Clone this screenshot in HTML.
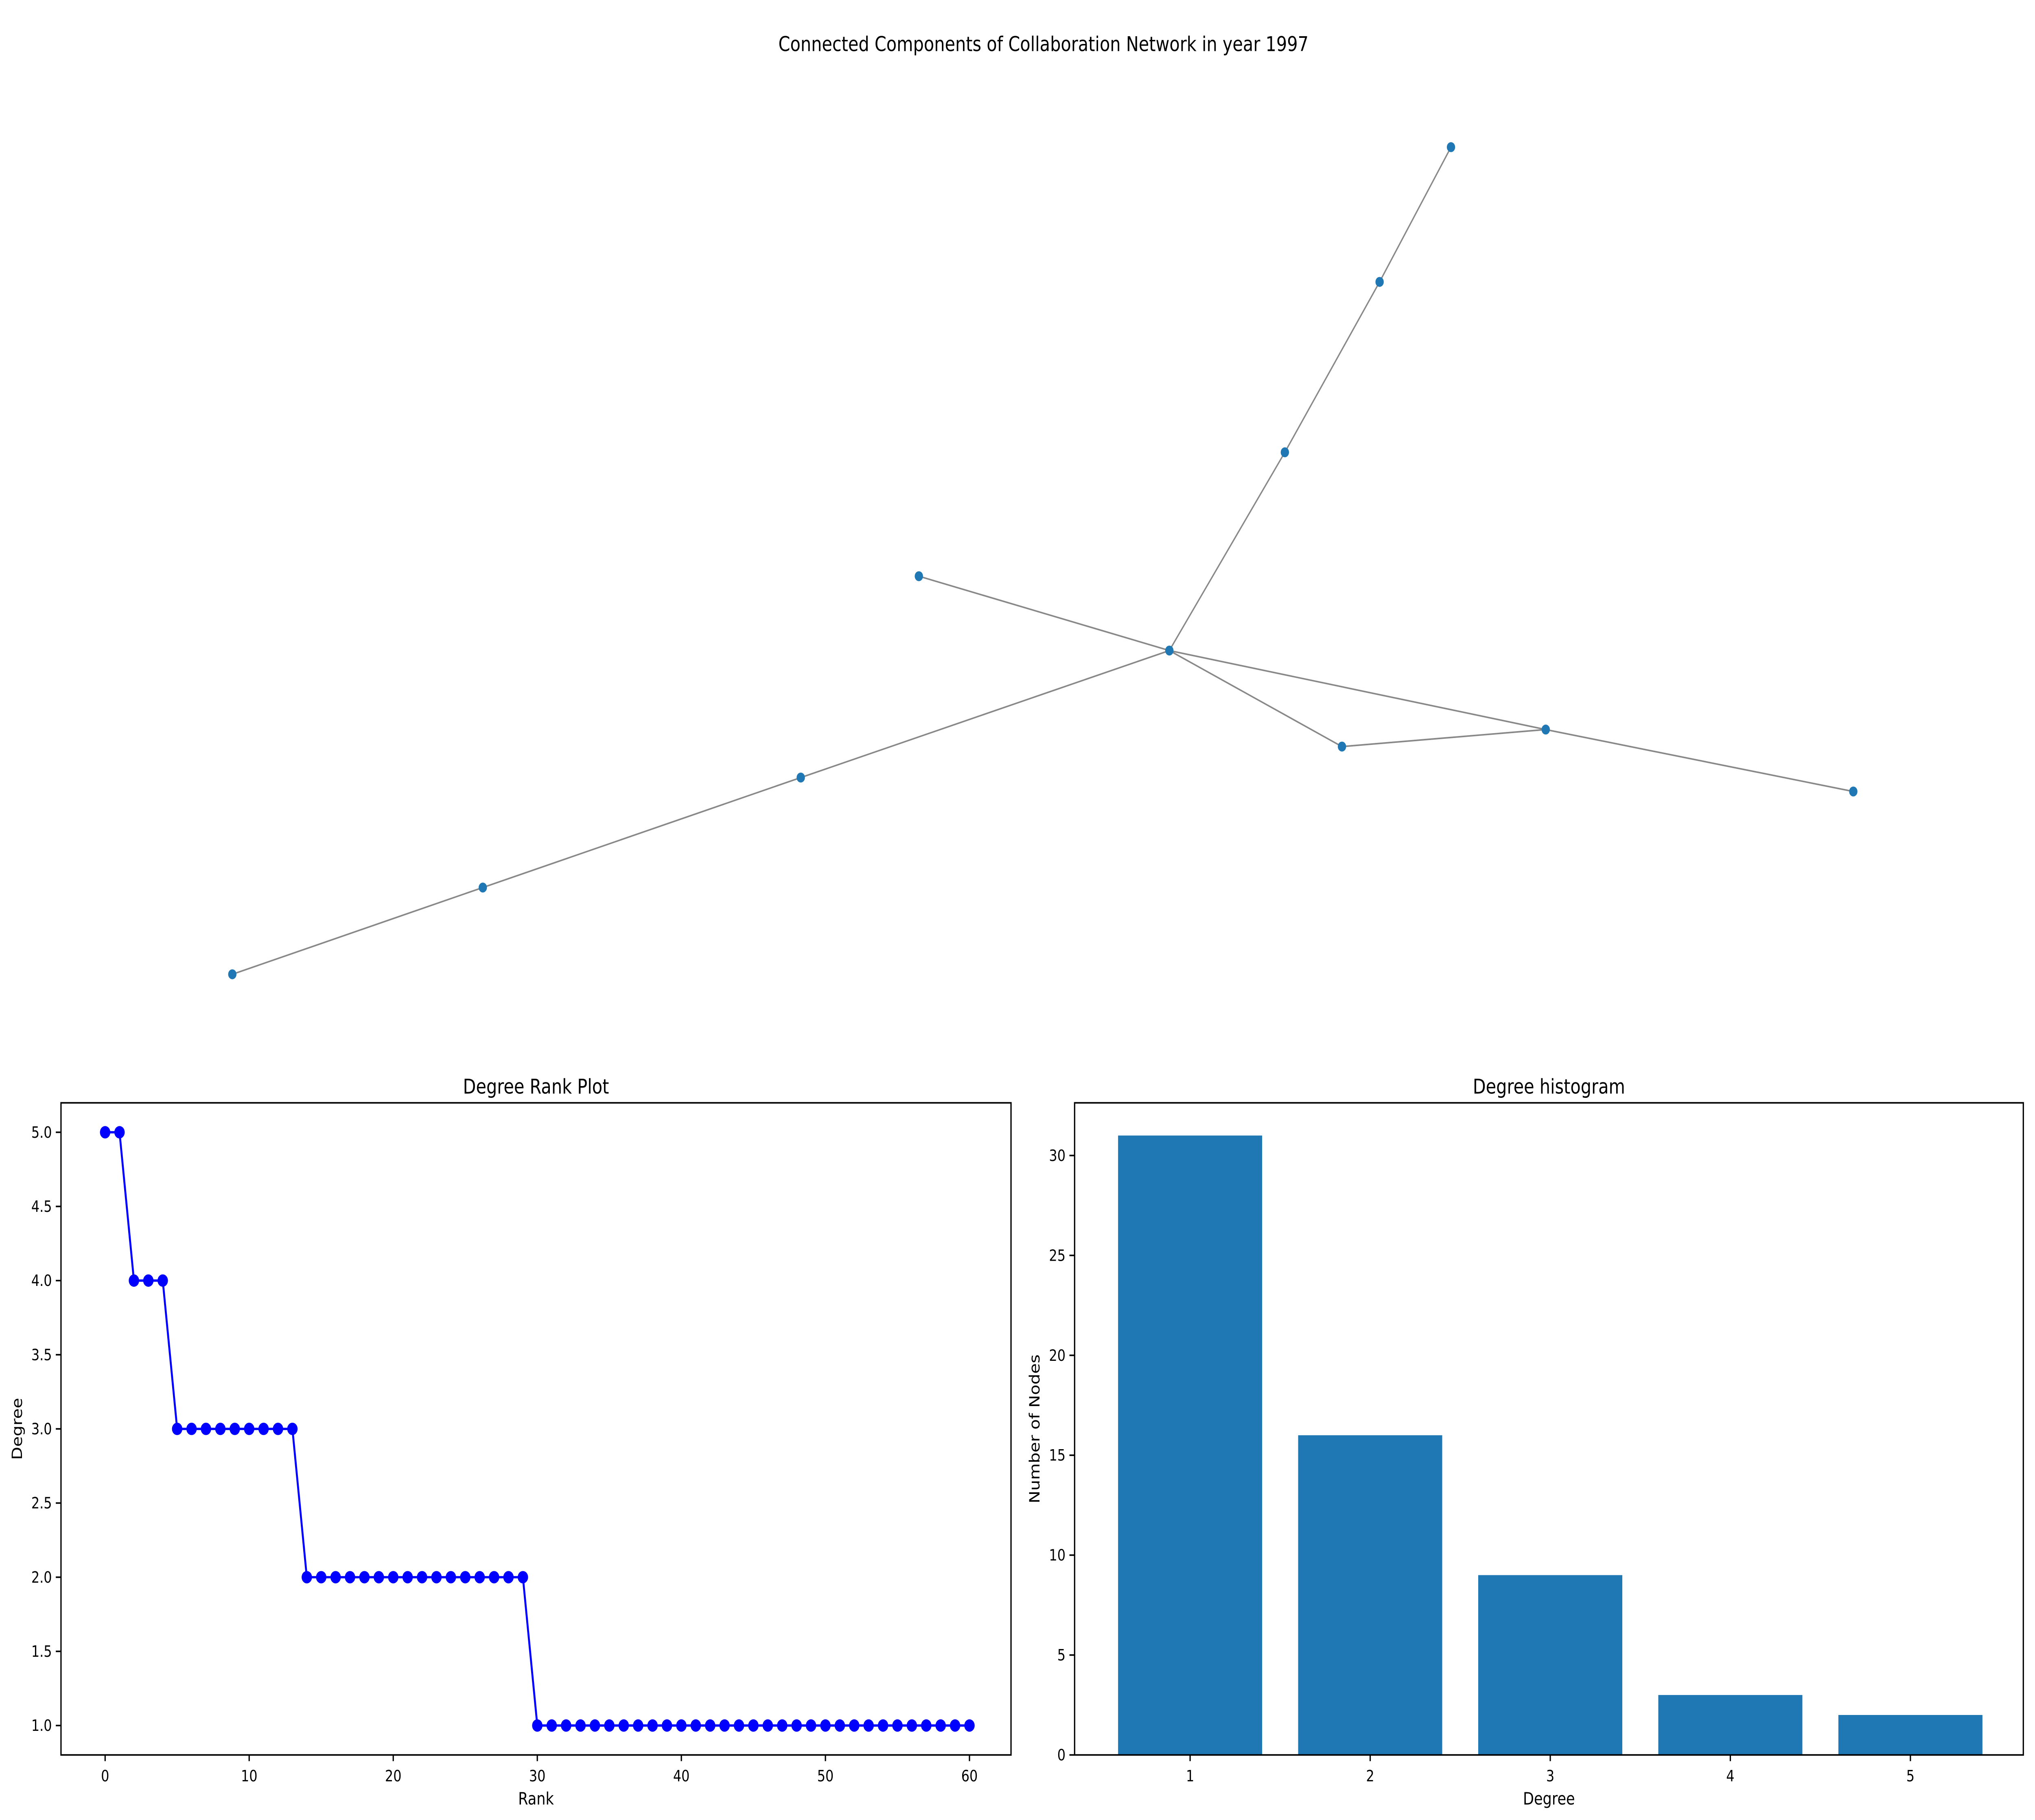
<!DOCTYPE html>
<html><head><meta charset="utf-8"><style>
html,body{margin:0;padding:0;background:#fff;width:100%;height:100%;overflow:hidden;}
svg{display:block;position:absolute;left:0;top:0;width:100vw;height:100vh;font-family:"DejaVu Sans","Liberation Sans",sans-serif;}
</style></head><body>
<svg id="fig" viewBox="0 0 1568 1175" preserveAspectRatio="none" xmlns="http://www.w3.org/2000/svg">
<rect width="1568" height="1175" fill="#fff"/>
<text x="804" y="33" font-size="13" text-anchor="middle">Connected Components of Collaboration Network in year 1997</text>
<g id="net"></g>
<g id="rank"></g>
<g id="hist"></g>
</svg>
<script>
const NS='http://www.w3.org/2000/svg';
// network layout
const nodeX=[1118,1063,990,708,901,1034,1191,1428,617,372,179];
const nodeY=[95,182,292,372,420,482,471,511,502,573,629];
const edgesA=[0,1,2,3,4,6,4,5,4,8,9];
const edgesB=[1,2,4,4,6,7,5,6,8,9,10];
// degree rank data
const rankDegrees=[5,5,4,4,4,3,3,3,3,3,3,3,3,3,2,2,2,2,2,2,2,2,2,2,2,2,2,2,2,2,1,1,1,1,1,1,1,1,1,1,1,1,1,1,1,1,1,1,1,1,1,1,1,1,1,1,1,1,1,1,1];
const rankXTicks=[0,10,20,30,40,50,60];
const rankYTicks=[1.0,1.5,2.0,2.5,3.0,3.5,4.0,4.5,5.0];
// histogram data
const histCats=[1,2,3,4,5];
const histCounts=[31,16,9,3,2];
const histYTicks=[0,5,10,15,20,25,30];

function mk(tag,attrs,parent,text){const e=document.createElementNS(NS,tag);for(const k in attrs)e.setAttribute(k,attrs[k]);if(text!==undefined)e.textContent=text;parent.appendChild(e);return e;}

const net=document.getElementById('net');
for(let i=0;i<edgesA.length;i++){
  const l=mk('line',{x1:nodeX[edgesA[i]],y1:nodeY[edgesA[i]],x2:nodeX[edgesB[i]],y2:nodeY[edgesB[i]],stroke:'#888',"stroke-width":1},net);
  
  
}
for(let i=0;i<nodeX.length;i++){
  const c=mk('circle',{cx:nodeX[i],cy:nodeY[i],r:3.2,fill:'#1f77b4'},net);
  
  
}

function axesFrame(g,L,R,T,B,title){
  const r=mk('rect',{x:L,y:T,width:R-L,height:B-T,fill:'none',stroke:'#000',"stroke-width":1},g);
  
  
  const t=mk('text',{x:(L+R)/2,y:T-6,"font-size":13,"text-anchor":"middle"},g,title);
  
  
}

// rank plot
(function(){
  const g=document.getElementById('rank');
  const L=47,R=779,T=712,B=1133;
  const xs=v=>81+v*(747-81)/60;
  const ys=v=>731+(5-v)*(1114-731)/4;
  axesFrame(g,L,R,T,B,'Degree Rank Plot');
  rankXTicks.forEach(v=>{
    mk('line',{x1:xs(v),x2:xs(v),y1:B,y2:B+4,stroke:'#000'},g);
    const t=mk('text',{x:xs(v),y:B+17,"font-size":10,"text-anchor":"middle"},g,String(v));
    
    
  });
  rankYTicks.forEach(v=>{
    mk('line',{x1:L-4,x2:L,y1:ys(v),y2:ys(v),stroke:'#000'},g);
    const t=mk('text',{x:L-7,y:ys(v)+3.5,"font-size":10,"text-anchor":"end"},g,v.toFixed(1));
    
    
  });
  const xl=mk('text',{x:(L+R)/2,y:1165,"font-size":11,"text-anchor":"middle"},g,'Rank');
  
  
  const yl=mk('text',{x:0,y:0,"font-size":11,"text-anchor":"middle",transform:'translate(17,'+((T+B)/2)+') rotate(-90)'},g,'Degree');
  
  
  const pts=rankDegrees.map((d,i)=>xs(i)+','+ys(d)).join(' ');
  const pl=mk('polyline',{points:pts,fill:'none',stroke:'#0000ff',"stroke-width":1.5},g);
  
  
  rankDegrees.forEach((d,i)=>{
    const c=mk('circle',{cx:xs(i),cy:ys(d),r:4,fill:'#0000ff'},g);
    
    
  });
})();

// histogram
(function(){
  const g=document.getElementById('hist');
  const L=828,R=1559,T=712,B=1133;
  const xs=v=>917+(v-1)*(1472-917)/4;
  const ys=v=>B-v*(B-746)/30;
  const bw=0.8*(1472-917)/4;
  histCats.forEach((c,i)=>{
    const r=mk('rect',{x:xs(c)-bw/2,y:ys(histCounts[i]),width:bw,height:B-ys(histCounts[i]),fill:'#1f77b4'},g);
    
    
  });
  axesFrame(g,L,R,T,B,'Degree histogram');
  histCats.forEach(v=>{
    mk('line',{x1:xs(v),x2:xs(v),y1:B,y2:B+4,stroke:'#000'},g);
    const t=mk('text',{x:xs(v),y:B+17,"font-size":10,"text-anchor":"middle"},g,String(v));
    
    
  });
  histYTicks.forEach(v=>{
    mk('line',{x1:L-4,x2:L,y1:ys(v),y2:ys(v),stroke:'#000'},g);
    const t=mk('text',{x:L-7,y:ys(v)+3.5,"font-size":10,"text-anchor":"end"},g,String(v));
    
    
  });
  const xl=mk('text',{x:(L+R)/2,y:1165,"font-size":11,"text-anchor":"middle"},g,'Degree');
  
  
  const yl=mk('text',{x:0,y:0,"font-size":11,"text-anchor":"middle",transform:'translate(801,'+((T+B)/2)+') rotate(-90)'},g,'Number of Nodes');
  
  
})();
</script>
</body></html>
